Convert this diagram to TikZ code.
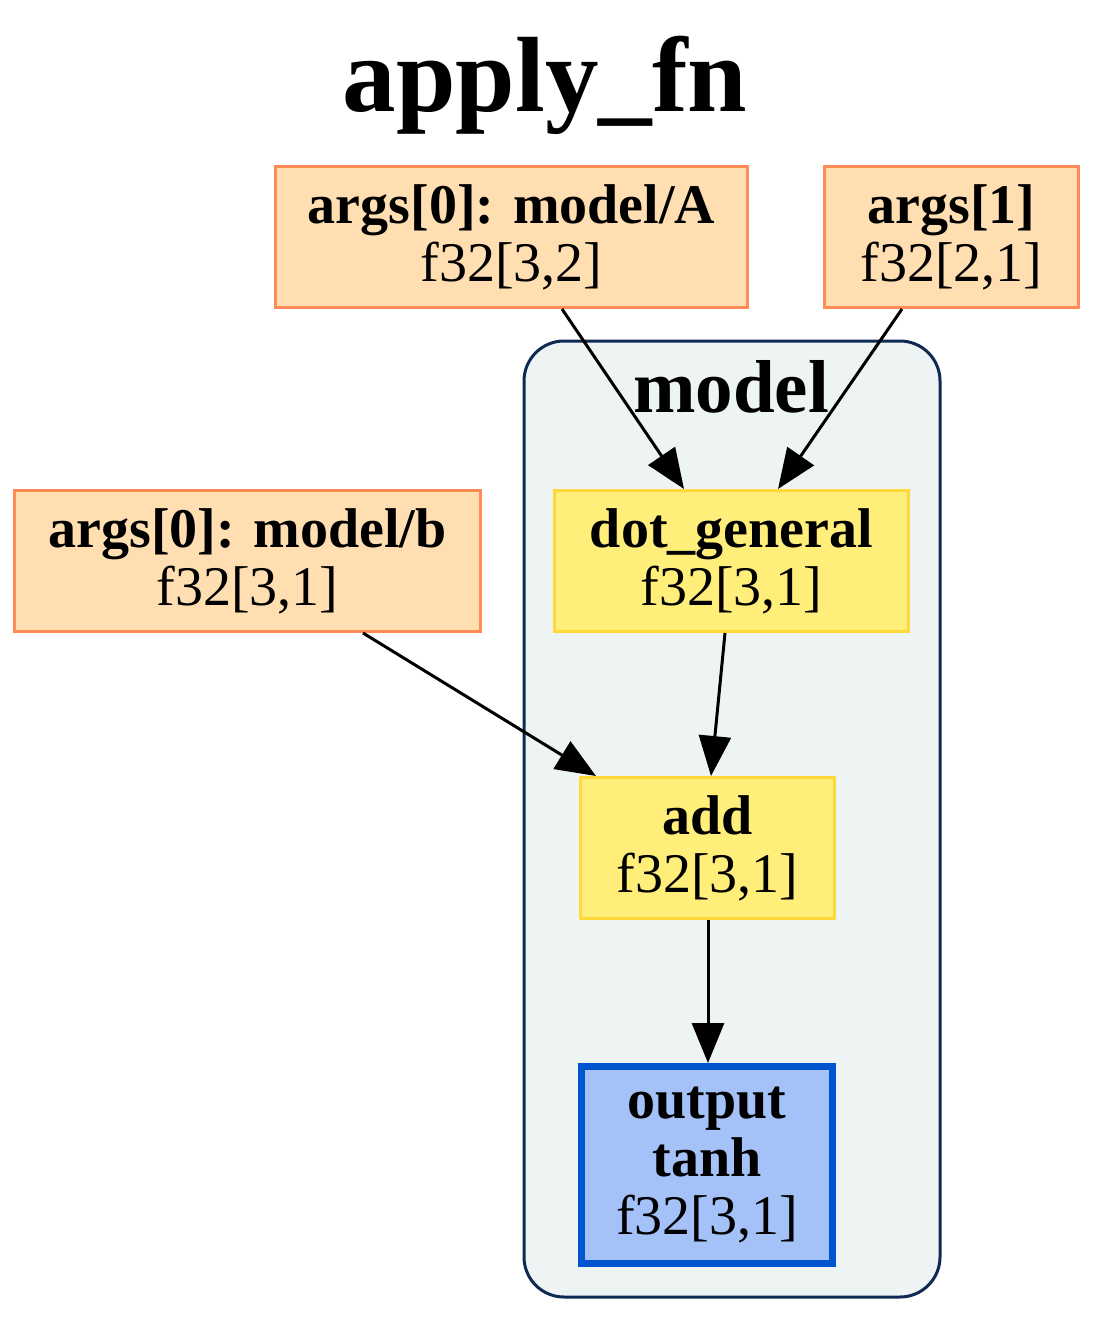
\documentclass[tikz,border=0pt]{standalone}
\usepackage{fontspec}
\setmainfont{Liberation Serif}
\usetikzlibrary{arrows.meta,calc}
\definecolor{argfill}{HTML}{FFDEB2}
\definecolor{argdraw}{HTML}{FF8C57}
\definecolor{opfill}{HTML}{FFEF7A}
\definecolor{opdraw}{HTML}{FFD83A}
\definecolor{outfill}{HTML}{A4C2F8}
\definecolor{outdraw}{HTML}{0055CF}
\definecolor{clfill}{HTML}{EEF4F4}
\definecolor{cldraw}{HTML}{0E2952}
\tikzset{
  box/.style={rectangle, align=center, inner sep=0pt,
    font=\fontsize{56}{58}\selectfont},
  argbox/.style={box, fill=argfill, draw=argdraw, line width=3pt},
  opbox/.style={box, fill=opfill, draw=opdraw, line width=3pt},
  outbox/.style={box, fill=outfill, draw=outdraw, line width=7pt},
  edge/.style={line width=3pt, -{Triangle[length=40pt,width=32pt]}},
}
\begin{document}
\begin{tikzpicture}[x=1pt,y=-1pt]
\useasboundingbox (0,0) rectangle (1094,1340);
% cluster
\draw[fill=clfill, draw=cldraw, line width=3pt, rounded corners=40pt] (524,341) rectangle (940,1297);
\node[anchor=base, font=\fontsize{75}{75}\selectfont\bfseries] (cltitle) at (731,412) {model};
% title
\node[anchor=base, font=\fontsize{107}{107}\selectfont\bfseries] (title) at (545,112) {apply\_fn};
% nodes
\node[argbox, minimum width=472pt, minimum height=141pt] (A) at (511.5,237) {\textbf{args[0]: model/A}\\f32[3,2]};
\node[argbox, minimum width=254pt, minimum height=141pt] (B1) at (951.5,237) {\textbf{args[1]}\\f32[2,1]};
\node[argbox, minimum width=466pt, minimum height=141pt] (b) at (247.5,561) {\textbf{args[0]: model/b}\\f32[3,1]};
\node[opbox, minimum width=354pt, minimum height=141pt] (dot) at (731.5,561) {\textbf{dot\_general}\\f32[3,1]};
\node[opbox, minimum width=254pt, minimum height=141pt] (add) at (707.5,848) {\textbf{add}\\f32[3,1]};
\node[outbox, minimum width=251pt, minimum height=197pt] (out) at (707,1165) {\textbf{output}\\\textbf{tanh}\\f32[3,1]};
% edges
\draw[edge] ([xshift=50.5pt]A.south) -- ([xshift=-47.5pt]dot.north);
\draw[edge] ([xshift=-49.5pt]B1.south) -- ([xshift=46.5pt]dot.north);
\draw[edge] ([xshift=115.5pt]b.south) -- ([xshift=-111.5pt]add.north);
\draw[edge] ([xshift=-6.5pt]dot.south) -- ([xshift=3.5pt]add.north);
\draw[edge] ([xshift=0.5pt]add.south) -- ([xshift=1pt]out.north);
\end{tikzpicture}
\end{document}
